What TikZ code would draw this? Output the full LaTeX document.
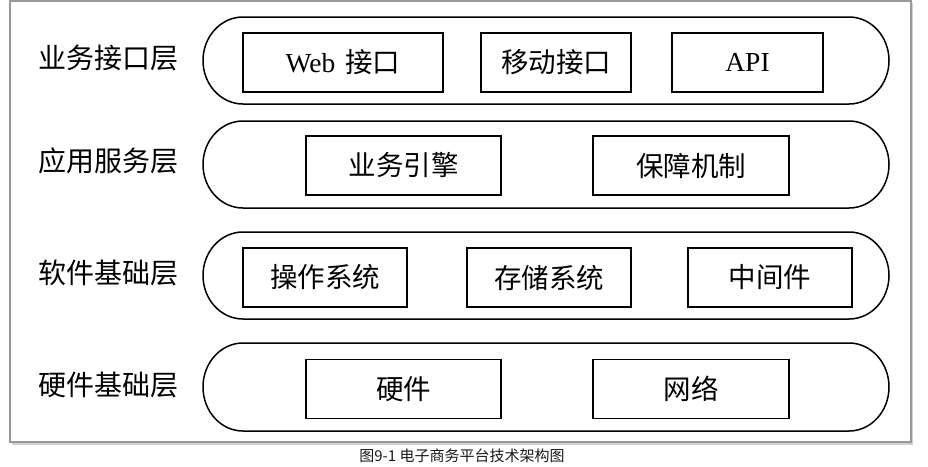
\documentclass[tikz,border=0pt]{standalone}
\usepackage{fontspec}
\setmainfont{Liberation Serif}
\newfontfamily\cjk{Noto Sans CJK SC}
\begin{document}
\begin{tikzpicture}[x=1pt,y=-1pt]
	\tikzset{blk/.style={draw, line width=1.8pt, minimum height=59pt, inner sep=0pt, font=\fontsize{27.5}{30}\selectfont\cjk},
		lyr/.style={line width=1.5pt},
		lbl/.style={font=\fontsize{28}{30}\selectfont\cjk}};
	\useasboundingbox (0,0) rectangle (928,466);
	% frame
	\fill[black!18] (12,3) rectangle (913,445);
	\filldraw[fill=white, draw=black!40, line width=1.2pt] (10,1) rectangle (911,442);
	% layers
	\foreach \t/\b in {17/104,121/208,232/319,343/431}
	{
		\pgfmathsetmacro{\ry}{(\b-\t)/2}
		\draw[lyr] (243,\t) -- (849,\t) arc[start angle=90, end angle=-90, x radius=40pt, y radius=\ry pt] -- (243,\b) arc[start angle=270, end angle=90, x radius=40pt, y radius=\ry pt] -- cycle;
	}
	\node[lbl] (ifc) at (108,58) {业务接口层};
	\node[lbl] (app) at (108,161) {应用服务层};
	\node[lbl] (sw) at (108,273) {软件基础层};
	\node[lbl] (hwl) at (108,385) {硬件基础层};
	% business interface
	\node[blk, minimum width=200pt] (web) at (343,62.5) {\textrm{Web}\hspace{4pt} 接口};
	\node[blk, minimum width=150pt] (mob) at (556,62.5) {移动接口};
	\node[blk, minimum width=151pt] (api) at (747.5,62.5) {\textrm{API}};
	% application service
	\node[blk, minimum width=195pt] (eng) at (403.5,165.5) {业务引擎};
	\node[blk, minimum width=196pt] (sec) at (691,165.5) {保障机制};
	% software base
	\node[blk, minimum width=164pt] (os) at (325,277.5) {操作系统};
	\node[blk, minimum width=164pt] (sto) at (549,277.5) {存储系统};
	\node[blk, minimum width=164pt] (mid) at (770,277.5) {中间件};
	% hardware base
	\node[blk, minimum width=195pt] (hw) at (403.5,389) {硬件};
	\node[blk, minimum width=196pt] (net) at (691,389) {网络};
	\node[font=\fontsize{15}{17}\selectfont\cjk, text=black!90] (cap) at (462,455.5) {图9-1 电子商务平台技术架构图};
\end{tikzpicture}
\end{document}
